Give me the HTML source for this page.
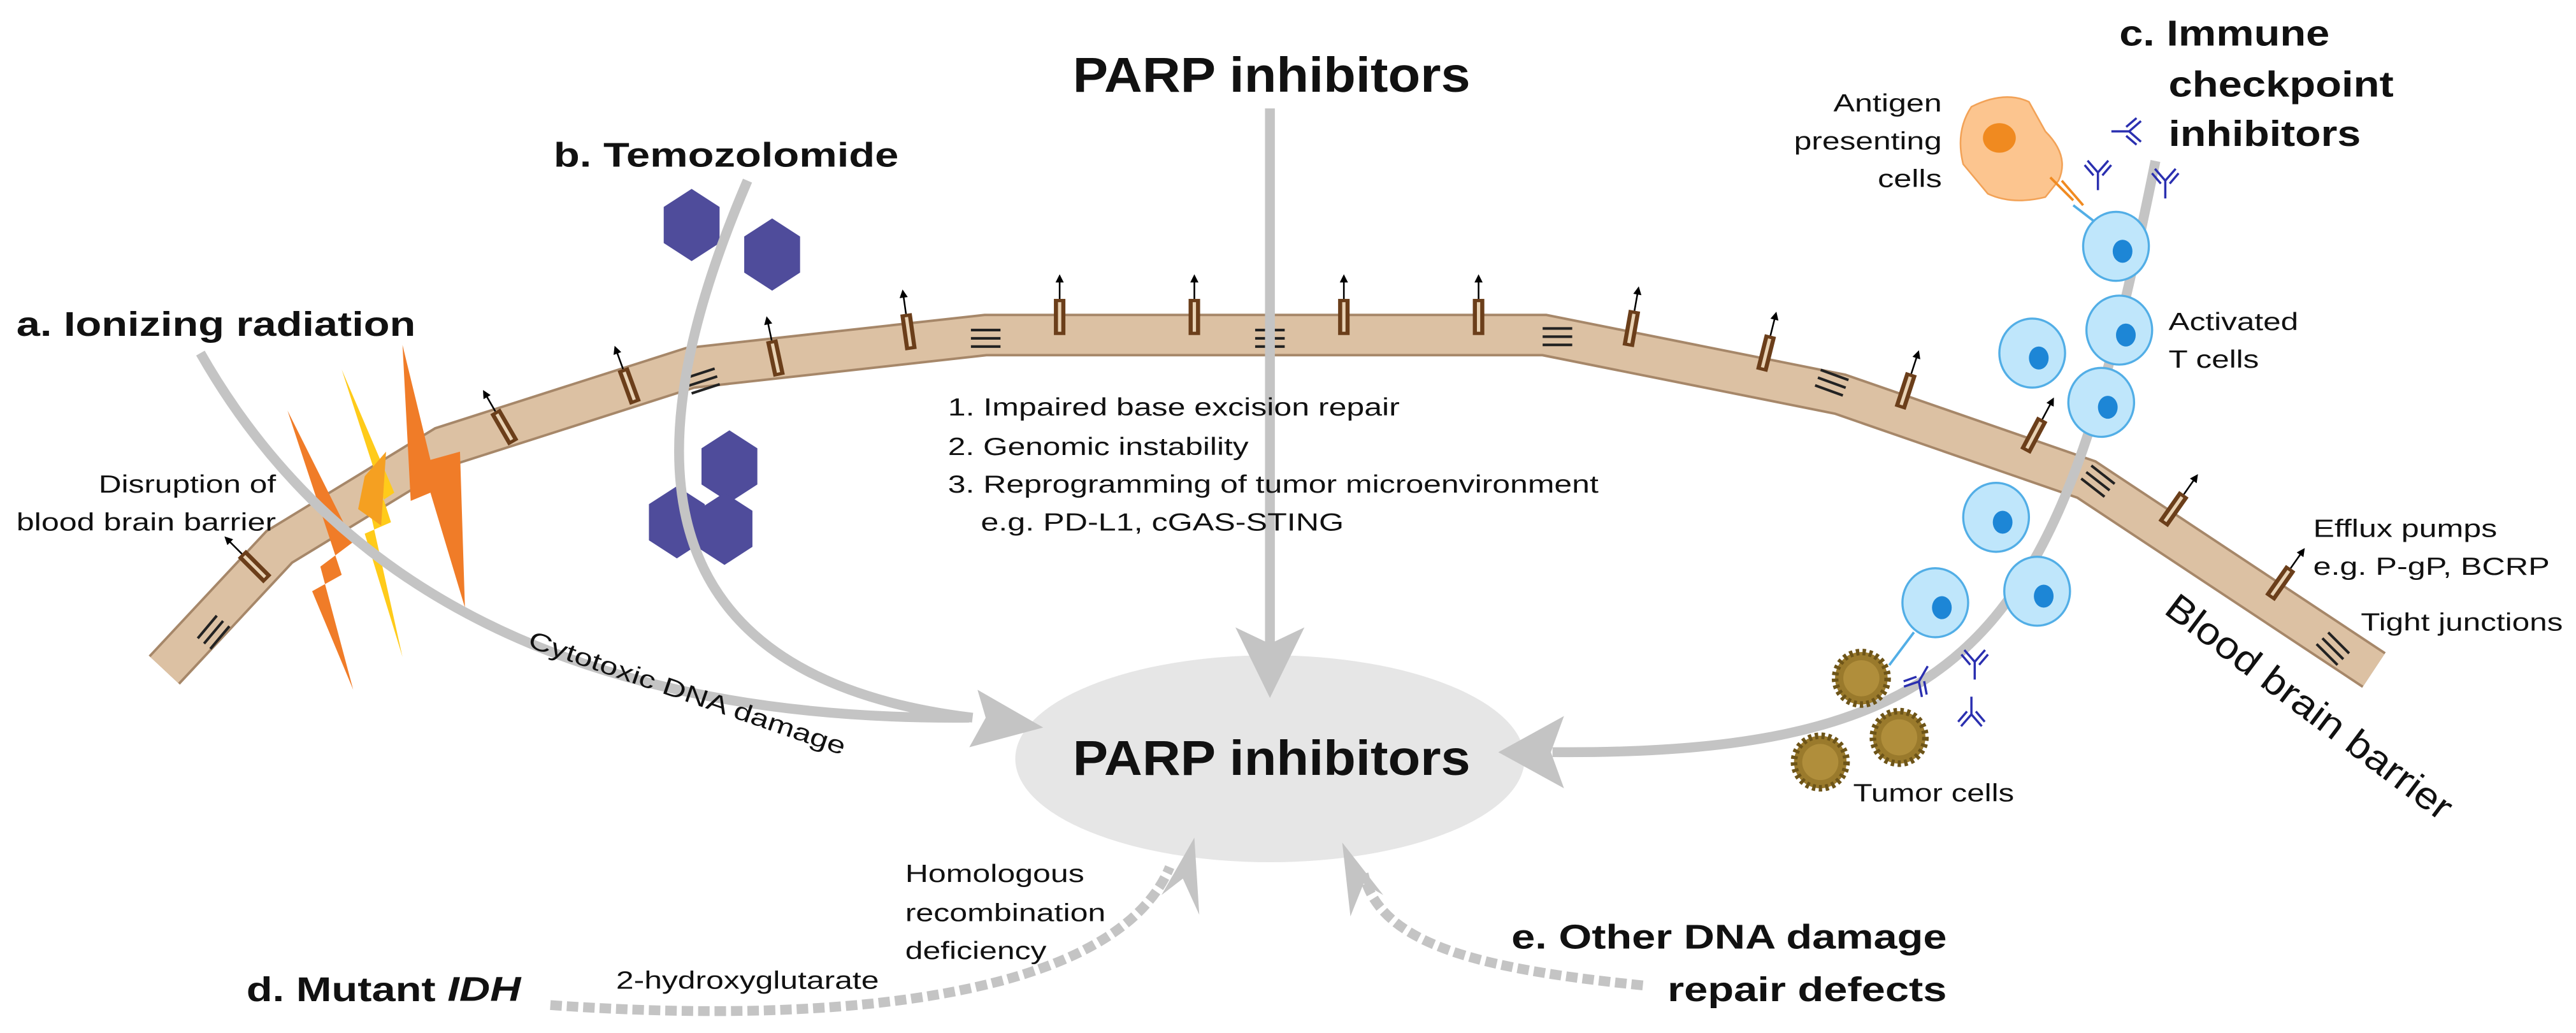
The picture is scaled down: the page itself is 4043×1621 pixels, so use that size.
<!DOCTYPE html>
<html><head><meta charset="utf-8"><style>
html,body{margin:0;padding:0;background:#fff}
svg{display:block}
text{font-family:"Liberation Sans",sans-serif;fill:#111}
.b{font-weight:bold}
.s{font-size:15px}
</style></head><body>
<svg width="4043" height="1621" viewBox="0 0 1568 629" preserveAspectRatio="none" xmlns="http://www.w3.org/2000/svg">
<defs>
<g id="pump"><rect x="-3.5" y="-11" width="7" height="22" fill="#6b3e1a"/><rect x="-1" y="-9" width="2" height="18" fill="#e8d2b4"/><line x1="0" y1="-11" x2="0" y2="-24" stroke="#000" stroke-width="1"/><path d="M-2.5,-21 L0,-26 L2.5,-21Z" fill="#000"/></g>
<g id="tj" stroke="#222" stroke-width="1.6"><line x1="-9" y1="-5" x2="9" y2="-5"/><line x1="-9" y1="0" x2="9" y2="0"/><line x1="-9" y1="5" x2="9" y2="5"/></g>
<g id="tc"><ellipse cx="0" cy="0" rx="20" ry="21" fill="#bfe6fb" stroke="#52aee6" stroke-width="1.3"/><ellipse cx="4" cy="3" rx="6" ry="7" fill="#1d86d6"/></g>
<g id="hex"><polygon points="0,-22 17,-11 17,11 0,22 -17,11 -17,-11" fill="#4f4c9b"/></g>
<g id="tum"><circle r="16" fill="#9a7a2c" stroke="#6d5418" stroke-width="4" stroke-dasharray="2 2"/><circle r="11" fill="#b08e3b"/></g>
<g id="ab" stroke="#2a2fb0" stroke-width="1.5" fill="none"><path d="M0,12 L0,0 L-7,-8 M0,0 L7,-8 M-3,2 L-9,-5 M3,2 L9,-5"/></g>
</defs>

<path d="M100,408 L170,333 L270,272 L420,224 L600,204 L940,204 L1120,240 L1270,292 L1445,408" fill="none" stroke="#a68769" stroke-width="26" stroke-linejoin="miter"/>
<path d="M100,408 L170,333 L270,272 L420,224 L600,204 L940,204 L1120,240 L1270,292 L1445,408" fill="none" stroke="#dcc1a3" stroke-width="23"/>
<g transform="translate(155,345) rotate(-45)"><use href="#pump"/></g>
<g transform="translate(307,260) rotate(-30)"><use href="#pump"/></g>
<g transform="translate(383,235) rotate(-20)"><use href="#pump"/></g>
<g transform="translate(472,218) rotate(-12)"><use href="#pump"/></g>
<g transform="translate(553,202) rotate(-8)"><use href="#pump"/></g>
<use href="#pump" x="645" y="193"/><use href="#pump" x="727" y="193"/><use href="#pump" x="818" y="193"/><use href="#pump" x="900" y="193"/>
<g transform="translate(993,200) rotate(10)"><use href="#pump"/></g>
<g transform="translate(1075,215) rotate(14)"><use href="#pump"/></g>
<g transform="translate(1160,238) rotate(18)"><use href="#pump"/></g>
<g transform="translate(1238,265) rotate(28)"><use href="#pump"/></g>
<g transform="translate(1323,310) rotate(35)"><use href="#pump"/></g>
<g transform="translate(1388,355) rotate(35)"><use href="#pump"/></g>
<g transform="translate(130,385) rotate(-50)"><use href="#tj"/></g>
<g transform="translate(268,292) rotate(-35)"><use href="#tj"/></g>
<g transform="translate(428,232) rotate(-18)"><use href="#tj"/></g>
<g transform="translate(600,206)"><use href="#tj"/></g>
<g transform="translate(773,206)"><use href="#tj"/></g>
<g transform="translate(948,205)"><use href="#tj"/></g>
<g transform="translate(1115,233) rotate(20)"><use href="#tj"/></g>
<g transform="translate(1277,293) rotate(38)"><use href="#tj"/></g>
<g transform="translate(1420,395) rotate(45)"><use href="#tj"/></g>

<polygon points="175,250 215,330 195,345 215,420 190,360 208,350" fill="#f07c28"/>
<polygon points="208,225 240,300 225,310 245,400 222,325 238,318" fill="#ffcb1a"/>
<polygon points="245,210 262,280 280,275 283,370 262,300 250,305" fill="#f07c28"/>
<polygon points="222,290 235,275 232,320 218,310" fill="#f5a021"/>

<use href="#hex" x="421" y="137"/><use href="#hex" x="470" y="155"/>
<use href="#hex" x="444" y="284"/><use href="#hex" x="412" y="318"/><use href="#hex" x="441" y="322"/>

<ellipse cx="773" cy="462" rx="155" ry="63" fill="#e6e6e6"/>

<g fill="none" stroke="#c4c4c4" stroke-width="6">
<path d="M122,215 Q250,440 590,437"/>
<path d="M455,110 C395,250 370,410 592,437"/>
<path d="M773,66 L773,395"/>
<path d="M1312,98 C1255,380 1210,460 945,458"/>
<path d="M335,612 C520,625 680,605 712,528" stroke-dasharray="7 3"/>
<path d="M1000,600 C900,590 840,575 830,532" stroke-dasharray="7 3"/>
</g>
<g fill="#c4c4c4">
<polygon points="635,443 595,420 600,437 590,455"/>
<polygon points="773,425 752,382 773,392 794,382"/>
<polygon points="912,458 952,436 944,458 952,480"/>
<polygon points="727,510 707,545 720,535 730,557"/>
<polygon points="817,513 842,545 830,538 822,558"/>
</g>

<g transform="translate(1225,90)"><path d="M-25,-25 Q-5,-35 10,-28 L20,-10 Q35,5 28,20 L20,30 Q0,35 -15,28 L-30,10 Q-35,-10 -25,-25Z" fill="#fcc58f" stroke="#f2a257" stroke-width="1"/><ellipse cx="-8" cy="-6" rx="10" ry="9" fill="#f08a20"/></g>
<path d="M1248,108 L1262,122 M1255,110 L1268,125" stroke="#f08a20" stroke-width="1.5"/>
<line x1="1262" y1="125" x2="1275" y2="135" stroke="#52aee6" stroke-width="1.5"/>
<g transform="translate(1277,105) scale(0.9)"><use href="#ab"/></g>
<g transform="translate(1318,110) scale(0.9)"><use href="#ab"/></g>
<g transform="translate(1296,80) rotate(90) scale(0.9)"><use href="#ab"/></g>
<use href="#tc" x="1288" y="150"/><use href="#tc" x="1290" y="201"/><use href="#tc" x="1237" y="215"/>
<use href="#tc" x="1279" y="245"/><use href="#tc" x="1215" y="315"/><use href="#tc" x="1240" y="360"/><use href="#tc" x="1178" y="367"/>
<line x1="1165" y1="385" x2="1150" y2="405" stroke="#52aee6" stroke-width="1.5"/>
<use href="#tum" x="1133" y="413"/><use href="#tum" x="1108" y="464"/><use href="#tum" x="1156" y="449"/>
<g transform="translate(1168,415) rotate(-150) scale(0.9)"><use href="#ab"/></g>
<g transform="translate(1202,403) scale(0.9)"><use href="#ab"/></g>
<g transform="translate(1200,435) rotate(180) scale(0.9)"><use href="#ab"/></g>

<g dominant-baseline="middle">
<text x="653" y="48" class="b" font-size="30" textLength="242" lengthAdjust="spacingAndGlyphs">PARP inhibitors</text>
<text x="653" y="464" class="b" font-size="30" textLength="242" lengthAdjust="spacingAndGlyphs">PARP inhibitors</text>
<text x="337" y="96" class="b" font-size="21" textLength="210" lengthAdjust="spacingAndGlyphs">b. Temozolomide</text>
<text x="10" y="199" class="b" font-size="21" textLength="243" lengthAdjust="spacingAndGlyphs">a. Ionizing radiation</text>
<text x="1290" y="22" class="b" font-size="22" textLength="128" lengthAdjust="spacingAndGlyphs">c. Immune</text>
<text x="1320" y="53" class="b" font-size="22" textLength="137" lengthAdjust="spacingAndGlyphs">checkpoint</text>
<text x="1320" y="83" class="b" font-size="22" textLength="117" lengthAdjust="spacingAndGlyphs">inhibitors</text>
<text x="1116" y="64" class="s" textLength="66" lengthAdjust="spacingAndGlyphs">Antigen</text>
<text x="1092" y="87" class="s" textLength="90" lengthAdjust="spacingAndGlyphs">presenting</text>
<text x="1143" y="110" class="s" textLength="39" lengthAdjust="spacingAndGlyphs">cells</text>
<text x="1320" y="197" class="s" textLength="79" lengthAdjust="spacingAndGlyphs">Activated</text>
<text x="1320" y="220" class="s" textLength="55" lengthAdjust="spacingAndGlyphs">T cells</text>
<text x="1408" y="323" class="s" textLength="112" lengthAdjust="spacingAndGlyphs">Efflux pumps</text>
<text x="1408" y="346" class="s" textLength="144" lengthAdjust="spacingAndGlyphs">e.g. P-gP, BCRP</text>
<text x="1437" y="380" class="s" textLength="123" lengthAdjust="spacingAndGlyphs">Tight junctions</text>
<text x="1128" y="484" class="s" textLength="98" lengthAdjust="spacingAndGlyphs">Tumor cells</text>
<text x="60" y="296" class="s" textLength="108" lengthAdjust="spacingAndGlyphs">Disruption of</text>
<text x="10" y="319" class="s" textLength="158" lengthAdjust="spacingAndGlyphs">blood brain barrier</text>
<text x="577" y="249" class="s" textLength="275" lengthAdjust="spacingAndGlyphs">1. Impaired base excision repair</text>
<text x="577" y="273" class="s" textLength="183" lengthAdjust="spacingAndGlyphs">2. Genomic instability</text>
<text x="577" y="296" class="s" textLength="396" lengthAdjust="spacingAndGlyphs">3. Reprogramming of tumor microenvironment</text>
<text x="597" y="319" class="s" textLength="221" lengthAdjust="spacingAndGlyphs">e.g. PD-L1, cGAS-STING</text>
<text x="551" y="533" class="s" textLength="109" lengthAdjust="spacingAndGlyphs">Homologous</text>
<text x="551" y="557" class="s" textLength="122" lengthAdjust="spacingAndGlyphs">recombination</text>
<text x="551" y="580" class="s" textLength="86" lengthAdjust="spacingAndGlyphs">deficiency</text>
<text x="375" y="598" class="s" textLength="160" lengthAdjust="spacingAndGlyphs">2-hydroxyglutarate</text>
<text x="150" y="604" class="b" font-size="21" textLength="167" lengthAdjust="spacingAndGlyphs">d. Mutant <tspan font-style="italic">IDH</tspan></text>
<text x="920" y="572" class="b" font-size="21" textLength="265" lengthAdjust="spacingAndGlyphs">e. Other DNA damage</text>
<text x="1015" y="604" class="b" font-size="21" textLength="170" lengthAdjust="spacingAndGlyphs">repair defects</text>
<text transform="translate(322,390) rotate(19)" font-size="15" textLength="203" lengthAdjust="spacingAndGlyphs">Cytotoxic DNA damage</text>
<text transform="translate(1320,368) rotate(37)" font-size="23" textLength="212" lengthAdjust="spacingAndGlyphs">Blood brain barrier</text>
</g>
</svg>
</body></html>
